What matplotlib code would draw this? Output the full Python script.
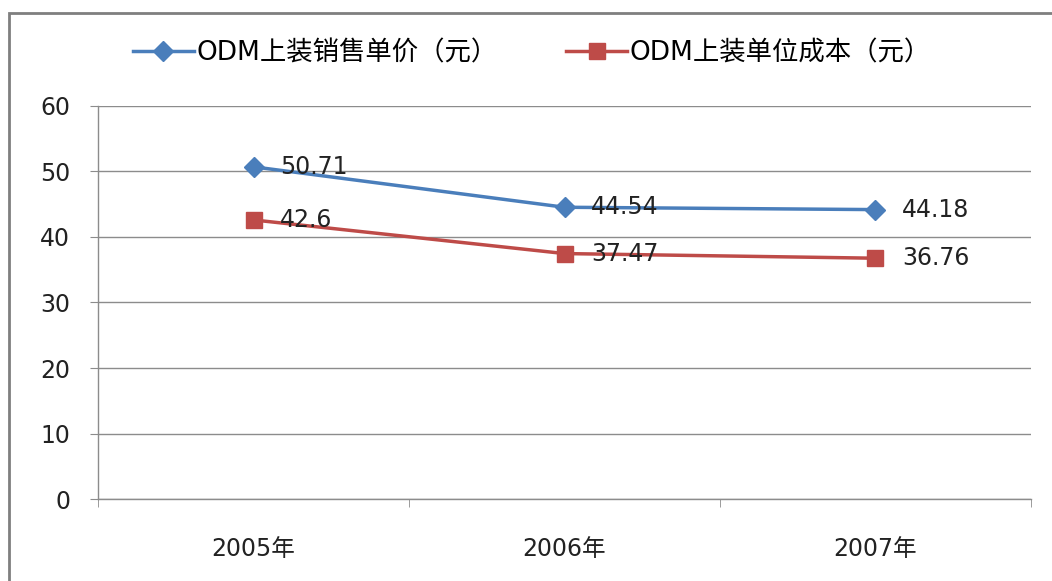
import matplotlib.pyplot as plt
from matplotlib.patches import Rectangle

plt.rcParams["font.family"] = ["DejaVu Sans", "Noto Sans CJK SC"]

# ---- data ----
years = ["2005年", "2006年", "2007年"]
price = [50.71, 44.54, 44.18]
cost = [42.6, 37.47, 36.76]
price_label = "ODM上装销售单价（元）"
cost_label = "ODM上装单位成本（元）"

blue = "#4A7EBB"
red = "#BE4B48"
grid_gray = "#8C8C8C"
text_color = "#222222"

fig = plt.figure(figsize=(10.52, 5.81), dpi=100)
ax = fig.add_axes([0.0932, 0.1411, 0.8868, 0.6765])

x = list(range(len(years)))
l1, = ax.plot(x, price, color=blue, lw=2.5, marker="D", ms=10,
              markeredgecolor=blue, label=price_label)
l2, = ax.plot(x, cost, color=red, lw=2.5, marker="s", ms=11.5,
              markeredgecolor=red, label=cost_label)

# value labels to the right of each point
for ys in (price, cost):
    for xi, yi in zip(x, ys):
        ax.annotate(f"{yi:g}", (xi, yi), xytext=(19, 0),
                    textcoords="offset points", ha="left", va="center",
                    fontsize=17, color=text_color)

ax.set_xlim(-0.5, 2.5)
ax.set_ylim(0, 60)
ax.set_yticks(range(0, 61, 10))
ax.set_xticks(x)
ax.set_xticklabels(years)
ax.set_xticks([-0.5, 0.5, 1.5, 2.5], minor=True)
ax.tick_params(axis="x", which="major", length=0, pad=27, labelsize=17,
               labelcolor=text_color)
ax.tick_params(axis="x", which="minor", length=6, color=grid_gray)
ax.tick_params(axis="y", length=6, pad=14, labelsize=17, color=grid_gray,
               labelcolor=text_color)

ax.grid(axis="y", color=grid_gray, lw=1)
ax.set_axisbelow(True)
for side in ("top", "right"):
    ax.spines[side].set_visible(False)
for side in ("left", "bottom"):
    ax.spines[side].set_color(grid_gray)
    ax.spines[side].set_linewidth(1)

fig.legend(handles=[l1, l2], loc="center", ncol=2,
           bbox_to_anchor=(532 / 1052, 1 - 53 / 581), frameon=False,
           fontsize=19, handlelength=2.3, columnspacing=2.6,
           handletextpad=0.1)

# outer chart border
fig.patches.append(Rectangle((9 / 1052, -0.05), 1.1, 1 - 13 / 581 + 0.05,
                             transform=fig.transFigure, fill=False,
                             edgecolor="#7F7F7F", lw=2))

fig.savefig("out.png", dpi=100)
